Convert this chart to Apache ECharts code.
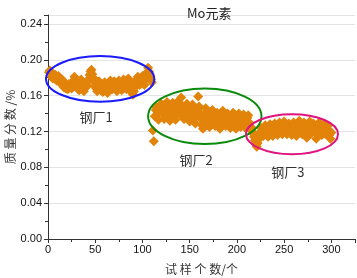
<!DOCTYPE html>
<html>
<head>
<meta charset="utf-8">
<script src="https://cdn.jsdelivr.net/npm/echarts@6/dist/echarts.min.js"></script>
<style>
  html, body { margin: 0; padding: 0; background: #fff; }
  #main { width: 357px; height: 278px; }
</style>
</head>
<body>
<div id="main"></div>
<script>
// 钢厂1: 试样 1..110
var plant1Start = 1;
var plant1 = [
  0.186, 0.188, 0.183, 0.181, 0.179, 0.184, 0.180, 0.183, 0.177, 0.179,
  0.182, 0.176, 0.174, 0.173, 0.178, 0.172, 0.169, 0.174, 0.168, 0.171,
  0.167, 0.173, 0.169, 0.172, 0.168, 0.174, 0.177, 0.181, 0.178, 0.174,
  0.170, 0.167, 0.166, 0.173, 0.178, 0.171, 0.168, 0.165, 0.170, 0.173,
  0.176, 0.171, 0.178, 0.183, 0.187, 0.189, 0.184, 0.180, 0.175, 0.170,
  0.168, 0.165, 0.171, 0.176, 0.170, 0.166, 0.173, 0.164, 0.169, 0.175,
  0.170, 0.166, 0.163, 0.169, 0.174, 0.177, 0.171, 0.167, 0.170, 0.176,
  0.173, 0.168, 0.165, 0.171, 0.177, 0.174, 0.170, 0.166, 0.173, 0.178,
  0.175, 0.171, 0.167, 0.174, 0.179, 0.176, 0.171, 0.167, 0.163, 0.161,
  0.165, 0.169, 0.174, 0.178, 0.181, 0.176, 0.172, 0.176, 0.180, 0.182,
  0.176, 0.172, 0.178, 0.183, 0.186, 0.191, 0.187, 0.182, 0.178, 0.175
];
// 钢厂2: 试样 111..215
var plant2Start = 111;
var plant2 = [
  0.121, 0.109, 0.137, 0.144, 0.147, 0.140, 0.133, 0.142, 0.148, 0.151,
  0.145, 0.139, 0.134, 0.142, 0.149, 0.153, 0.146, 0.138, 0.132, 0.141,
  0.148, 0.152, 0.144, 0.137, 0.133, 0.143, 0.150, 0.154, 0.146, 0.139,
  0.158, 0.149, 0.142, 0.134, 0.138, 0.145, 0.151, 0.143, 0.136, 0.131,
  0.140, 0.147, 0.150, 0.142, 0.135, 0.129, 0.138, 0.145, 0.159, 0.148,
  0.141, 0.134, 0.127, 0.123, 0.131, 0.139, 0.146, 0.141, 0.135, 0.129,
  0.125, 0.133, 0.141, 0.144, 0.137, 0.130, 0.126, 0.134, 0.141, 0.136,
  0.128, 0.123, 0.131, 0.139, 0.143, 0.135, 0.129, 0.126, 0.133, 0.140,
  0.134, 0.127, 0.124, 0.131, 0.138, 0.141, 0.133, 0.126, 0.123, 0.130,
  0.137, 0.140, 0.132, 0.125, 0.129, 0.136, 0.139, 0.131, 0.124, 0.128,
  0.135, 0.138, 0.130, 0.125, 0.121
];
// 钢厂3: 试样 216..300
var plant3Start = 216;
var plant3 = [
  0.124, 0.118, 0.114, 0.110, 0.106, 0.103, 0.107, 0.111, 0.116, 0.120,
  0.124, 0.119, 0.115, 0.121, 0.127, 0.123, 0.118, 0.114, 0.121, 0.128,
  0.124, 0.118, 0.115, 0.122, 0.129, 0.125, 0.119, 0.116, 0.123, 0.130,
  0.126, 0.120, 0.117, 0.124, 0.131, 0.127, 0.121, 0.117, 0.124, 0.129,
  0.125, 0.119, 0.116, 0.123, 0.130, 0.126, 0.120, 0.115, 0.122, 0.128,
  0.132, 0.126, 0.120, 0.117, 0.124, 0.130, 0.125, 0.118, 0.113, 0.120,
  0.127, 0.131, 0.124, 0.118, 0.123, 0.129, 0.125, 0.119, 0.112, 0.118,
  0.125, 0.130, 0.126, 0.120, 0.116, 0.123, 0.128, 0.124, 0.117, 0.121,
  0.126, 0.122, 0.116, 0.112, 0.119
];

// 椭圆标注: 中心x, 中心y, 半宽, 半高
var ellipseNames = ['钢厂1', '钢厂2', '钢厂3'];
var ellipseColors = ['#1a1aff', '#0a8a0a', '#e0127f'];
var ellipseBoxes = [
  [55.2, 0.1787, 57.3, 0.0255],
  [166, 0.137, 60, 0.031],
  [258.3, 0.117, 48.7, 0.0223]
];
var labelPos = [[50.8, 0.136], [156.7, 0.088], [254, 0.075]];

function toPoints(start, arr) {
  return arr.map(function (v, i) { return [start + i, v]; });
}

var chart = echarts.init(document.getElementById('main'));

var cjk = '"Noto Sans CJK SC", sans-serif';
var num = '"Liberation Sans", Arial, sans-serif';

var pointStyle = {
  type: 'scatter',
  symbol: 'diamond',
  symbolSize: 10,
  itemStyle: { color: '#e2830a', opacity: 1 },
  silent: true
};

var option = {
  backgroundColor: '#fff',
  animation: false,
  title: {
    text: 'Mo元素',
    left: 182,
    top: 2,
    textStyle: { fontFamily: cjk, fontSize: 13, fontWeight: 'normal', color: '#222' }
  },
  grid: { left: 48, right: 2, top: 15, bottom: 39, outerBoundsMode: 'none', containLabel: false },
  xAxis: {
    type: 'value',
    min: 0,
    max: 325,
    interval: 50,
    name: '试 样 个 数/个',
    nameLocation: 'middle',
    nameGap: 24,
    nameMoveOverlap: false,
    nameTextStyle: { fontFamily: cjk, fontSize: 12, color: '#333' },
    axisLine: { lineStyle: { color: '#333', width: 1 } },
    axisTick: { length: 4, lineStyle: { color: '#333' } },
    minorTick: { show: true, splitNumber: 2, length: 3, lineStyle: { color: '#333' } },
    axisLabel: { fontFamily: num, fontSize: 11, color: '#111', margin: 5, showMaxLabel: false },
    splitLine: { show: false }
  },
  yAxis: {
    type: 'value',
    min: 0,
    max: 0.25,
    interval: 0.04,
    name: '质 量 分 数 /%',
    nameLocation: 'middle',
    nameGap: 32,
    nameMoveOverlap: false,
    nameTextStyle: { fontFamily: cjk, fontSize: 12, color: '#333' },
    axisLine: { show: true, lineStyle: { color: '#333', width: 1 } },
    axisTick: { show: true, length: 4, lineStyle: { color: '#333' } },
    minorTick: { show: true, splitNumber: 2, length: 3, lineStyle: { color: '#333' } },
    axisLabel: {
      fontFamily: num, fontSize: 11, color: '#111', margin: 6, showMaxLabel: false,
      formatter: function (v) { return v.toFixed(2); }
    },
    splitLine: { show: true, lineStyle: { color: '#e4e4e4', width: 1 } }
  },
  series: [
    Object.assign({ name: '钢厂1', data: toPoints(plant1Start, plant1) }, pointStyle),
    Object.assign({ name: '钢厂2', data: toPoints(plant2Start, plant2) }, pointStyle),
    Object.assign({ name: '钢厂3', data: toPoints(plant3Start, plant3) }, pointStyle),
    {
      type: 'custom',
      silent: true,
      clip: false,
      z: 5,
      data: ellipseBoxes.map(function (b, i) { return [b[0], b[1], b[2], b[3], i]; }),
      renderItem: function (params, api) {
        var i = api.value(4);
        var b = ellipseBoxes[i];
        var c = api.coord([b[0], b[1]]);
        var e = api.coord([b[0] + b[2], b[1] + b[3]]);
        var t = api.coord(labelPos[i]);
        return {
          type: 'group',
          children: [{
            type: 'ellipse',
            shape: { cx: c[0], cy: c[1], rx: e[0] - c[0], ry: c[1] - e[1] },
            style: { fill: null, stroke: ellipseColors[i], lineWidth: 2 }
          }, {
            type: 'text',
            x: t[0],
            y: t[1],
            style: {
              text: ellipseNames[i],
              fill: '#333',
              font: '13px ' + cjk,
              align: 'center',
              verticalAlign: 'middle'
            }
          }]
        };
      }
    }
  ]
};

option && chart.setOption(option);
window.addEventListener('resize', chart.resize);
</script>
</body>
</html>
